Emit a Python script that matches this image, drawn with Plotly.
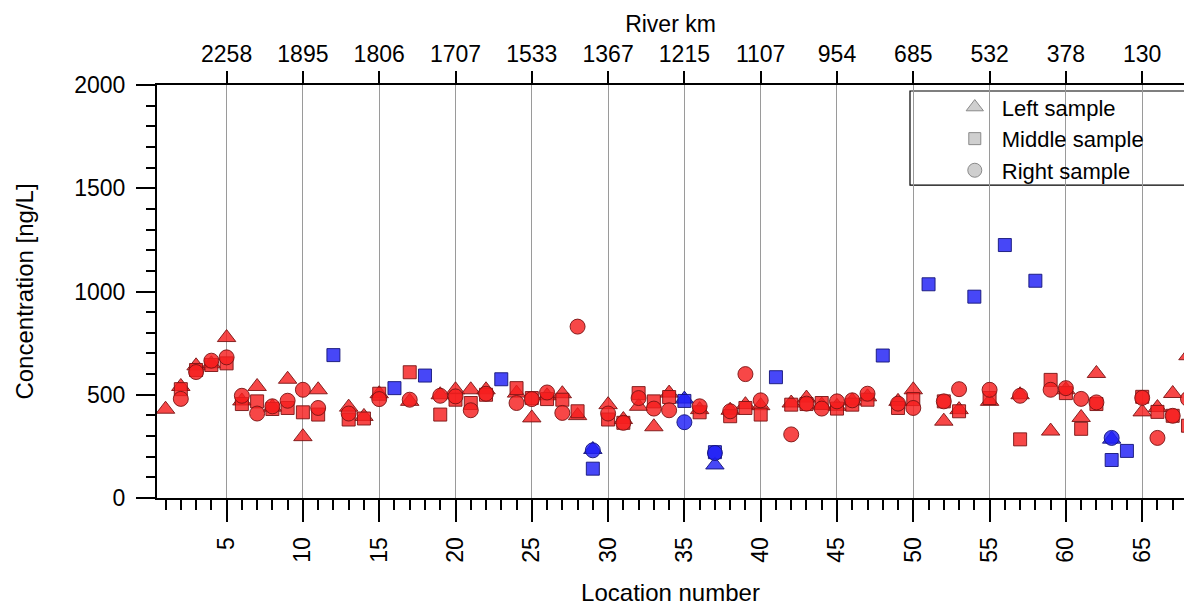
import plotly.graph_objects as go

locations = list(range(1, 69))

left_sample = [430, 540, 640, 650, 777, 470, 540, 440, 575, 297,
               524, None, 440, 395, 505, None, 468, None, 500, 524,
               524, 524, None, 508, 388, 495, 505, 399, 235, 452,
               380, 444, 345, 508, 479, 428, 160, 425, 452, 447,
               None, 460, 484, 450, 444, 470, 490, None, 468, 524,
               None, 372, 428, None, 468, None, 500, None, 324, 524,
               390, 603, 285, None, 417, 438, 506, 689]

middle_sample = [None, 527, 620, 644, 652, 455, 468, 431, 436, 415,
                 404, 692, 380, 385, 505, 532, 609, 593, 404, 476,
                 460, 500, 575, 532, 484, 479, 476, 420, 142, 380,
                 364, 508, 468, 489, 470, 415, 222, 396, 436, 404,
                 585, 452, 455, 460, 433, 452, 476, 690, 436, 479,
                 1035, 468, 420, 975, 484, 1225, 284, 1052, 572, 508,
                 335, 455, 184, 228, 490, 417, 398, 350]

right_sample = [None, 480, 610, 665, 681, 495, 409, 444, 471, 524,
                436, None, 409, None, 479, None, 476, None, 495, 492,
                425, 505, None, 460, 479, 511, 412, 830, 231, 409,
                364, 484, 433, 425, 367, 444, 218, 420, 600, 473,
                None, 308, 457, 433, 468, 473, 505, None, 457, 436,
                None, 468, 527, None, 524, None, 495, None, 524, 532,
                480, 463, 291, None, 485, 291, 398, 480]

blue_locations = [12, 16, 18, 23, 29, 35, 37, 41, 48, 51, 54, 56, 58, 63, 64]

major_ticks = [5, 10, 15, 20, 25, 30, 35, 40, 45, 50, 55, 60, 65]
river_km = ["2258", "1895", "1806", "1707", "1533", "1367", "1215",
            "1107", "954", "685", "532", "378", "130"]

RED = "rgba(245,30,30,0.82)"
BLUE = "rgba(30,30,245,0.82)"
colors = [BLUE if loc in blue_locations else RED for loc in locations]
lines = ["rgba(20,20,120,0.9)" if loc in blue_locations else "rgba(120,20,20,0.9)"
         for loc in locations]

FONT = "Liberation Sans, Arial, sans-serif"

fig = go.Figure()

series = [
    ("Left sample", left_sample, "triangle-up", 16),
    ("Middle sample", middle_sample, "square", 13),
    ("Right sample", right_sample, "circle", 15),
]
for name, vals, sym, size in series:
    fig.add_trace(go.Scatter(
        x=locations, y=vals, mode="markers", showlegend=False,
        marker=dict(symbol=sym, size=size, color=colors,
                    line=dict(color=lines, width=1)),
        name=name,
    ))

for name, vals, sym, size in series:
    fig.add_trace(go.Scatter(
        x=[None], y=[None], mode="markers", name=name, showlegend=True,
        marker=dict(symbol=sym, size=size - 1, color="#cfcfcf",
                    line=dict(color="#8a8a8a", width=1)),
    ))

# invisible trace for top axis
fig.add_trace(go.Scatter(x=[None], y=[None], xaxis="x2", showlegend=False,
                         hoverinfo="skip"))

xr = [0.439, 67.74]

fig.update_layout(
    width=1184, height=606,
    margin=dict(l=157, r=0, t=85, b=108),
    paper_bgcolor="white", plot_bgcolor="white",
    font=dict(family=FONT, size=23, color="black"),
    xaxis=dict(
        range=xr, tickmode="linear", tick0=0, dtick=5,
        ticks="outside", ticklen=22, tickwidth=2, tickcolor="black",
        tickangle=-90, ticklabelstandoff=6,
        showline=True, linewidth=2, linecolor="black",
        showgrid=True, gridcolor="#9a9a9a", gridwidth=1.3,
        zeroline=False,
        minor=dict(tick0=0, dtick=1, ticks="outside", ticklen=10,
                   tickwidth=2, tickcolor="black", showgrid=False),
        title=dict(text="Location number", font=dict(size=24), standoff=22),
        tickfont=dict(size=23),
    ),
    xaxis2=dict(
        range=xr, overlaying="x", side="top",
        tickmode="array", tickvals=major_ticks, ticktext=river_km,
        ticks="outside", ticklen=12, tickwidth=2, tickcolor="black",
        showline=True, linewidth=2, linecolor="black",
        showgrid=False, zeroline=False,
        title=dict(text="River km", font=dict(size=23), standoff=2),
        tickfont=dict(size=23),
    ),
    yaxis=dict(
        range=[0, 2000], tickmode="linear", tick0=0, dtick=500,
        ticks="outside", ticklen=19, tickwidth=2, tickcolor="black",
        ticklabelstandoff=6,
        showline=True, linewidth=2, linecolor="black",
        showgrid=False, zeroline=False,
        minor=dict(tick0=0, dtick=100, ticks="outside", ticklen=9,
                   tickwidth=2, tickcolor="black", showgrid=False),
        title=dict(text="Concentration [ng/L]", font=dict(size=24), standoff=34),
        tickfont=dict(size=23),
    ),
    legend=dict(
        x=0.770, y=0.997, xanchor="left", yanchor="top",
        bgcolor="rgba(0,0,0,0)", borderwidth=0,
        font=dict(size=22), itemwidth=44, tracegroupgap=0,
    ),
    shapes=[dict(
        type="rect", xref="paper", yref="paper",
        x0=0.7332, x1=1.02, y0=0.7576, y1=0.9855,
        line=dict(color="black", width=1.2), fillcolor="white", layer="below",
    )],
)

fig.write_html("out.html")
